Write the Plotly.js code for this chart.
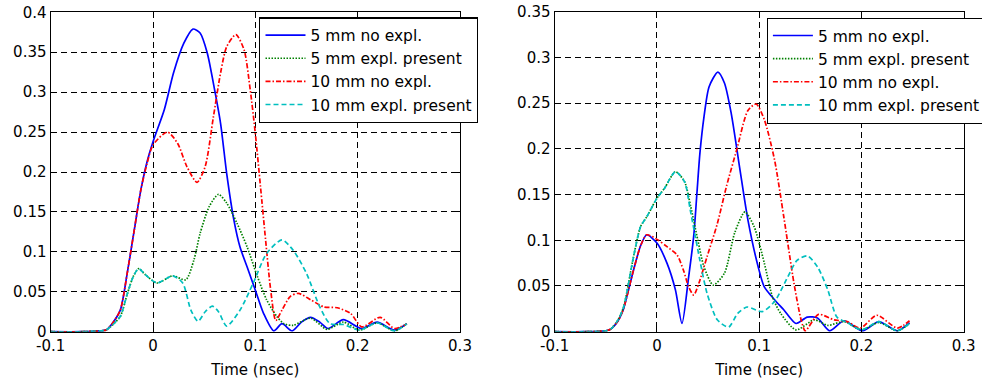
<!DOCTYPE html>
<html>
<head>
<meta charset="utf-8">
<script src="https://cdn.plot.ly/plotly-3.0.1.min.js"></script>
<style>html,body{margin:0;padding:0;background:#fff;}#chart{width:982px;height:379px;}</style>
</head>
<body>
<div id="chart"></div>
<script>
// ---------- data ----------
const seriesNames = ["5 mm no expl.", "5 mm expl. present", "10 mm no expl.", "10 mm expl. present"];
const xTickVals = [-0.1, 0, 0.1, 0.2, 0.3];
const xTickText = ["-0.1", "0", "0.1", "0.2", "0.3"];

// Left panel
const L5noX = [-0.1,-0.07,-0.052,-0.046,-0.04,-0.032,-0.025,-0.018,-0.012,-0.006,0,0.011,0.020,0.030,0.039,0.046,0.053,0.059,0.066,0.072,0.079,0.085,0.092,0.1,0.108,0.118,0.126,0.136,0.145,0.154,0.163,0.171,0.186,0.204,0.219,0.236,0.248];
const L5noY = [0,0,0.001,0.002,0.01,0.027,0.075,0.13,0.177,0.212,0.238,0.278,0.324,0.361,0.379,0.374,0.349,0.311,0.261,0.198,0.14,0.106,0.081,0.052,0.023,0.001,0.01,0.001,0.012,0.018,0.012,0.004,0.015,0.004,0.012,0.002,0.01];

const L5exX = [-0.1,-0.07,-0.052,-0.046,-0.04,-0.032,-0.025,-0.019,-0.014,-0.008,0.004,0.019,0.032,0.040,0.046,0.055,0.064,0.072,0.082,0.092,0.102,0.111,0.121,0.128,0.137,0.154,0.170,0.186,0.202,0.219,0.236,0.248];
const L5exY = [0,0,0.001,0.002,0.008,0.019,0.048,0.07,0.079,0.072,0.061,0.07,0.065,0.09,0.123,0.157,0.172,0.161,0.136,0.106,0.069,0.04,0.019,0.01,0.008,0.017,0.003,0.012,0.002,0.011,0.001,0.01];

const L10noX = [-0.1,-0.07,-0.052,-0.046,-0.04,-0.032,-0.025,-0.018,-0.012,-0.006,0,0.014,0.024,0.033,0.043,0.051,0.059,0.066,0.072,0.081,0.089,0.095,0.1,0.105,0.11,0.115,0.120,0.126,0.134,0.142,0.154,0.167,0.180,0.193,0.204,0.222,0.236,0.248];
const L10noY = [0,0,0.001,0.002,0.01,0.027,0.075,0.13,0.177,0.21,0.234,0.25,0.236,0.207,0.187,0.207,0.269,0.324,0.357,0.372,0.353,0.303,0.248,0.182,0.115,0.052,0.014,0.027,0.044,0.048,0.04,0.031,0.03,0.023,0.006,0.018,0.004,0.01];

const L10exX = [-0.1,-0.07,-0.052,-0.046,-0.04,-0.032,-0.025,-0.019,-0.014,-0.008,0.004,0.019,0.029,0.037,0.044,0.051,0.058,0.064,0.072,0.085,0.098,0.111,0.126,0.137,0.150,0.163,0.173,0.186,0.202,0.219,0.236,0.248];
const L10exY = [0,0,0.001,0.002,0.008,0.019,0.048,0.07,0.079,0.072,0.061,0.07,0.061,0.027,0.013,0.025,0.032,0.025,0.007,0.027,0.061,0.098,0.115,0.102,0.073,0.031,0.01,0.009,0.002,0.011,0.001,0.01];

// Right panel
const R5noX = [-0.1,-0.07,-0.05,-0.045,-0.038,-0.033,-0.023,-0.016,-0.01,0,0.0098,0.018,0.0245,0.031,0.036,0.039,0.042,0.046,0.051,0.0596,0.066,0.0726,0.0808,0.089,0.099,0.105,0.115,0.124,0.136,0.147,0.157,0.169,0.183,0.201,0.217,0.235,0.247];
const R5noY = [0,0,0.001,0.003,0.012,0.024,0.067,0.094,0.106,0.097,0.075,0.046,0.009,0.06,0.105,0.15,0.195,0.235,0.268,0.284,0.272,0.239,0.18,0.122,0.071,0.049,0.035,0.024,0.009,0.016,0.015,0.001,0.012,0.001,0.011,0.001,0.01];

const R5exX = [-0.1,-0.07,-0.05,-0.045,-0.038,-0.0326,-0.0229,-0.016,-0.0098,0,0.0075,0.018,0.027,0.033,0.04,0.046,0.055,0.066,0.076,0.086,0.095,0.105,0.113,0.121,0.136,0.154,0.167,0.183,0.2,0.217,0.235,0.247];
const R5exY = [0,0,0.001,0.003,0.013,0.027,0.082,0.115,0.126,0.146,0.157,0.175,0.164,0.137,0.1,0.071,0.051,0.064,0.108,0.131,0.115,0.075,0.038,0.02,0.002,0.013,0.007,0.011,0.002,0.01,0.001,0.009];

const R10noX = [-0.1,-0.07,-0.05,-0.045,-0.038,-0.033,-0.023,-0.016,-0.01,0,0.0098,0.0196,0.026,0.031,0.036,0.041,0.049,0.059,0.068,0.078,0.089,0.097,0.105,0.115,0.124,0.134,0.141,0.145,0.158,0.173,0.186,0.199,0.215,0.235,0.247];
const R10noY = [0,0,0.001,0.003,0.012,0.024,0.067,0.094,0.106,0.101,0.093,0.084,0.067,0.049,0.04,0.053,0.082,0.118,0.159,0.199,0.242,0.249,0.232,0.188,0.126,0.053,0.013,0.001,0.019,0.013,0.011,0.004,0.018,0.004,0.012];

const R10exX = [-0.1,-0.07,-0.05,-0.045,-0.038,-0.0326,-0.0229,-0.016,-0.0098,0,0.0075,0.018,0.027,0.0326,0.042,0.049,0.059,0.07,0.079,0.088,0.103,0.115,0.128,0.137,0.147,0.157,0.167,0.176,0.186,0.2,0.217,0.235,0.247];
const R10exY = [0,0,0.001,0.003,0.013,0.027,0.082,0.115,0.126,0.146,0.157,0.175,0.164,0.133,0.078,0.042,0.013,0.005,0.02,0.027,0.022,0.033,0.06,0.078,0.083,0.071,0.046,0.016,0.01,0.002,0.011,0.001,0.009];

// ---------- styling ----------
const FONT = "DejaVu Sans, Arial, sans-serif";
const styles = [
  {color: "#0000ff", dash: "solid"},
  {color: "#008000", dash: "1.5px,1.5px"},
  {color: "#ff0000", dash: "5px,2px,1.5px,2px"},
  {color: "#00bfbf", dash: "5px,3px"}
];
function tr(x, y, i, xa, ya, leg) {
  return {
    x: x, y: y, type: "scatter", mode: "lines", name: seriesNames[i],
    xaxis: xa, yaxis: ya, legend: leg,
    line: {color: styles[i].color, dash: styles[i].dash, width: 1.7, shape: "spline", smoothing: 0.7}
  };
}
const data = [
  tr(L5noX, L5noY, 0, "x", "y", "legend"),
  tr(L5exX, L5exY, 1, "x", "y", "legend"),
  tr(L10noX, L10noY, 2, "x", "y", "legend"),
  tr(L10exX, L10exY, 3, "x", "y", "legend"),
  tr(R5noX, R5noY, 0, "x2", "y2", "legend2"),
  tr(R5exX, R5exY, 1, "x2", "y2", "legend2"),
  tr(R10noX, R10noY, 2, "x2", "y2", "legend2"),
  tr(R10exX, R10exY, 3, "x2", "y2", "legend2")
];

const W = 982, H = 379;
function xax(l, r, anchor) {
  return {
    domain: [l / W, r / W], range: [-0.1, 0.3], anchor: anchor,
    tickmode: "array", tickvals: xTickVals, ticktext: xTickText,
    showgrid: true, gridcolor: "#000", griddash: "6px,4px", gridwidth: 1,
    zeroline: false, showline: true, linecolor: "#000", linewidth: 1.2, mirror: "ticks",
    ticks: "inside", ticklen: 4, tickcolor: "#000",
    tickfont: {family: FONT, size: 15, color: "#000"},
    title: {text: "Time (nsec)", font: {family: FONT, size: 15, color: "#000"}, standoff: 10},
    fixedrange: true
  };
}
function yax(top, ymax, anchor) {
  return {
    domain: [1 - 331.7 / H, 1 - top / H], range: [0, ymax], anchor: anchor,
    dtick: 0.05, tick0: 0,
    showgrid: true, gridcolor: "#000", griddash: "6px,4px", gridwidth: 1,
    zeroline: false, showline: true, linecolor: "#000", linewidth: 1.2, mirror: "ticks",
    ticks: "inside", ticklen: 4, tickcolor: "#000",
    tickfont: {family: FONT, size: 15, color: "#000"},
    fixedrange: true
  };
}
function leg(x, y) {
  return {
    x: x / W, y: 1 - y / H, xanchor: "left", yanchor: "top", xref: "paper", yref: "paper",
    bgcolor: "#fff", bordercolor: "#000", borderwidth: 1.2,
    font: {family: FONT, size: 15.5, color: "#000"}, itemwidth: 40
  };
}
const layout = {
  width: W, height: H,
  margin: {l: 0, r: 0, t: 0, b: 0, autoexpand: false},
  paper_bgcolor: "#fff", plot_bgcolor: "#fff",
  showlegend: true,
  xaxis: xax(50.7, 460, "y"),
  yaxis: yax(12.3, 0.4, "x"),
  xaxis2: xax(554.7, 963.7, "y2"),
  yaxis2: yax(11.7, 0.35, "x2"),
  legend: leg(259.3, 17.3),
  legend2: leg(766.7, 17.7)
};
Plotly.newPlot("chart", data, layout, {displayModeBar: false, staticPlot: true});
</script>
</body>
</html>
